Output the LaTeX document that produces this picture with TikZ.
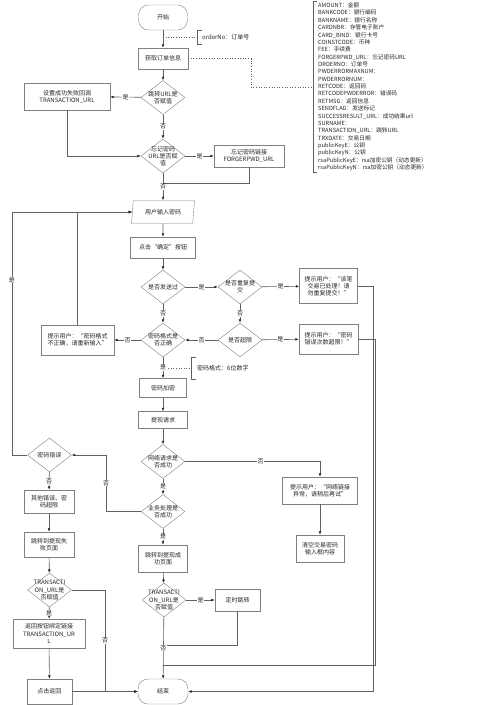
\documentclass[tikz,border=0pt]{standalone}
\usepackage{fontspec}
\setmainfont{Noto Sans CJK SC}
\usepackage{tikz}
\usetikzlibrary{shapes.geometric,arrows.meta,positioning,calc}
\definecolor{linegray}{HTML}{606060}
\definecolor{boxgray}{HTML}{808080}

\begin{document}
\begin{tikzpicture}[x=1pt, y=-1pt, font=\fontsize{6}{7.2}\selectfont, text=black!85,
  box/.style={draw=boxgray, fill=white, align=center, inner sep=1pt},
  term/.style={box, rounded corners=10pt, minimum width=49pt, minimum height=25pt},
  dec/.style={diamond, draw=boxgray, fill=white, align=center, inner sep=-3pt, aspect=1.25, minimum width=44pt, minimum height=34pt},
  io/.style={trapezium, trapezium left angle=77, trapezium right angle=103, trapezium stretches body, draw=boxgray, fill=white, minimum width=63pt, minimum height=23pt, inner sep=1pt},
  arr/.style={line width=0.6pt, draw=linegray, -{Latex[length=3.5pt, width=2.8pt, color=black!85]}},
  ln/.style={line width=0.6pt, draw=linegray},
  note/.style={line width=0.6pt, draw=linegray, dotted},
  lbl/.style={fill=white, inner sep=0.5pt}]
\useasboundingbox (0,0) rectangle (500,705);

% main column
\node[term] (start) at (163,17.5) {开始};
\node[box, minimum width=50pt, minimum height=21pt] (getinfo) at (163,58.5) {获取订单信息};
\node[dec] (d1) at (163,97.5) {跳转URL是\\否赋值};
\node[box, minimum width=86pt, minimum height=27pt] (setcb) at (67,96.5) {设置成功失败回调\\TRANSACTION\_URL};
\node[dec] (d2) at (163,156) {忘记密码\\URL是否赋\\值};
\node[box, minimum width=70pt, minimum height=22pt] (forget) at (249,156) {忘记密码链接\\FORGERPWD\_URL};
\node[io] (input) at (163,212) {用户输入密码};
\node[box, minimum width=65pt, minimum height=21pt] (confirm) at (163,247.5) {点击“确定”按钮};
\node[dec] (d3) at (163,287) {是否发送过};
\node[dec] (d4) at (240,287) {是否重复提\\交};
\node[box, minimum width=58pt, minimum height=35pt] (msgdup) at (328.5,286) {提示用户：“该笔\\交易已处理！请\\勿重复提交！”};
\node[dec] (d6) at (163,340) {密码格式是\\否正确};
\node[dec] (d5) at (240,340) {是否超限};
\node[box, minimum width=59pt, minimum height=30pt] (msgover) at (328.5,339) {提示用户：“密码\\错误次数超限！”};
\node[box, minimum width=73pt, minimum height=30pt] (msgfmt) at (77.5,340) {提示用户：“密码格式\\不正确，请重新输入”};
\node[box, minimum width=47pt, minimum height=19pt] (encrypt) at (163,388) {密码加密};
\node[box, minimum width=49pt, minimum height=17pt] (request) at (163,420) {提现请求};
\node[dec] (d7) at (163,461.5) {网络请求是\\否成功};
\node[box, minimum width=75pt, minimum height=27pt] (msgnet) at (320,490.5) {提示用户：“网络链接\\异常，请稍后再试”};
\node[box, minimum width=48pt, minimum height=27pt] (clear) at (320,548.5) {清空交易密码\\输入框内容};
\node[dec] (d8) at (163,511.5) {业务处理是\\否成功};
\node[box, minimum width=49pt, minimum height=27pt] (okpage) at (163,558.5) {跳转到提现成\\功页面};
\node[dec] (d11) at (164,600) {TRANSACTI\\ON\_URL是\\否赋值};
\node[box, minimum width=45pt, minimum height=22pt] (timer) at (237.5,600) {定时跳转};
\node[term, minimum width=50pt] (end) at (163,691.5) {结束};

% left column
\node[dec] (d9) at (49.5,455) {密码错误};
\node[box, minimum width=50pt, minimum height=23pt] (other) at (49,501.5) {其他错误、密\\码超限};
\node[box, minimum width=50pt, minimum height=25pt] (failpage) at (49,544.5) {跳转到提现失\\败页面};
\node[dec] (d10) at (49.5,590) {TRANSACTI\\ON\_URL是\\否赋值};
\node[box, minimum width=72pt, minimum height=29pt] (bindback) at (49,633.5) {返回按钮绑定链接\\TRANSACTION\_UR\\L};
\node[box, minimum width=45pt, minimum height=25pt] (clickback) at (49.5,691.5) {点击返回};

% notes
\node[anchor=west, inner sep=1pt] (ordno) at (201,37) {orderNo：订单号};
\draw[ln] (202,30) -| (197,44) -- (202,44);
\node[anchor=west, inner sep=1pt] (pwdfmt) at (196,368) {密码格式：6位数字};
\draw[ln] (196,357) -| (191,379) -- (196,379);
\node[anchor=north west, align=left, inner sep=0pt, font=\fontsize{5.7}{7.37}\selectfont] (fields) at (318,2.5)
  {AMOUNT：金额\\BANKCODE：银行编码\\BANKNAME：银行名称\\CARDNBR：存管电子账户\\CARD\_BIND：银行卡号\\
   COINSTCODE：币种\\FEE：手续费\\FORGERPWD\_URL：忘记密码URL\\ORDERNO：订单号\\PWDERRORMAXNUM：\\
   PWDERRORNUM：\\RETCODE：返回码\\RETCODEPWDERROR：错误码\\RETMSG：返回信息\\SENDFLAG：发送标记\\
   SUCCESSRESULT\_URL：成功结果url\\SURNAME：\\TRANSACTION\_URL：跳转URL\\TRXDATE：交易日期\\
   publicKeyE：公钥\\publicKeyN：公钥\\rsaPublicKeyE：rsa加密公钥（动态更新）\\rsaPublicKeyN：rsa加密公钥（动态更新）};
\draw[ln] ([shift={(-1pt,1pt)}]fields.north west) -| ([shift={(-5pt,-1pt)}]fields.south west) -- ([shift={(-1pt,-1pt)}]fields.south west);

% joints
\coordinate (ordpt) at (163,37);
\coordinate (ordbr) at (197,37);
\coordinate (fmtpt) at (163,368);
\coordinate (fmtbr) at (191,368);
\coordinate (fldbr) at ([xshift=-5pt]fields.west);
\coordinate (j1) at (163,183);
\coordinate (j2) at (163,645);
\coordinate (j3) at (163,665);
\coordinate (bz) at (106,511.5);
\coordinate (lp) at (12,455);
\coordinate (rx) at (105,691.5);
\coordinate (rx1) at (373,286);
\coordinate (rx2) at (375,339);

% dotted notes
\draw[note] (ordpt) -- (ordbr);
\draw[note] (fmtpt) -- (fmtbr);
\draw[note] (getinfo.east) -- (251,58.5) |- (fldbr);

% connectors
\draw[arr] (start) -- (getinfo);
\draw[arr] (getinfo) -- (d1);
\draw[arr] (d1) -- node[lbl]{是} (setcb);
\draw[arr] (d1) -- node[lbl]{否} (d2);
\draw[arr] (setcb) |- (d2);
\draw[arr] (d2) -- node[lbl]{是} (forget);
\draw[ln] (forget) |- (j1);
\draw[arr] (d2) -- node[lbl]{否} (input);
\draw[arr] (input) -- (confirm);
\draw[arr] (confirm) -- (d3);
\draw[arr] (d3) -- node[lbl]{是} (d4);
\draw[arr] (d4) -- node[lbl]{是} (msgdup);
\draw[arr] (d3) -- node[lbl]{否} (d6);
\draw[arr] (d4) -- node[lbl]{否} (d5);
\draw[arr] (d5) -- node[lbl]{否} (d6);
\draw[arr] (d5) -- node[lbl]{是} (msgover);
\draw[arr] (d6) -- node[lbl]{否} (msgfmt);
\draw[arr] (msgfmt) |- (input);
\draw[arr] (d6) -- node[lbl]{是} (encrypt);
\draw[arr] (encrypt) -- (request);
\draw[arr] (request) -- (d7);
\draw[arr] (d7) -| node[lbl, pos=0.28]{否} (msgnet);
\draw[arr] (msgnet) -- (clear);
\draw[arr] (d7) -- node[lbl]{是} (d8);
\draw[arr] (d8) -- node[lbl]{是} (okpage);
\draw[arr] (d8) -- (bz) |- node[lbl, pos=0.25]{否} (d9);
\draw[arr] (d9) -- (lp) |- node[lbl, pos=0.36]{是} (input);
\draw[arr] (d9) -- node[lbl]{否} (other);
\draw[arr] (other) -- (failpage);
\draw[arr] (failpage) -- (d10);
\draw[arr] (d10) -- node[lbl]{是} (bindback);
\draw[arr] (bindback) -- (clickback);
\draw[arr] (clickback) -- (end);
\draw[arr] (d10) -| node[lbl, pos=0.75]{否} (rx) -- (end);
\draw[arr] (okpage) -- (d11);
\draw[arr] (d11) -- node[lbl]{是} (timer);
\draw[ln] (timer) |- (j2);
\draw[arr] (d11) -- node[lbl]{否} (end);
\draw[arr] (msgdup) -- (rx1) |- (end);
\draw[ln] (msgover) -- (rx2) |- (j3);
\end{tikzpicture}
\end{document}
